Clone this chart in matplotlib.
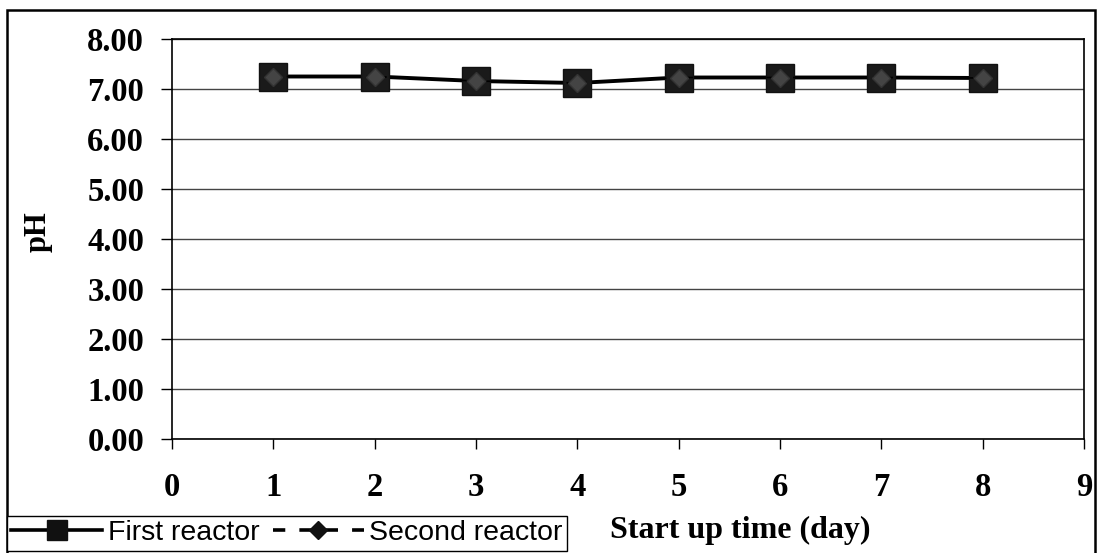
import matplotlib
matplotlib.use("Agg")
import matplotlib.pyplot as plt
from matplotlib.lines import Line2D
from matplotlib.patches import Rectangle

days = [1, 2, 3, 4, 5, 6, 7, 8]
first_reactor = [7.25, 7.25, 7.16, 7.12, 7.23, 7.23, 7.23, 7.22]
second_reactor = [7.25, 7.25, 7.16, 7.12, 7.23, 7.23, 7.23, 7.22]
x_ticks = [0, 1, 2, 3, 4, 5, 6, 7, 8, 9]
y_ticks = [0, 1, 2, 3, 4, 5, 6, 7, 8]

W, H = 1098, 553
fig = plt.figure(figsize=(W / 100, H / 100), dpi=100)
ax = fig.add_axes([172 / W, 1 - 439 / H, (1084 - 172) / W, (439 - 39) / H])

serif = "Liberation Serif"
sans = "Liberation Sans"

ax.plot(days, first_reactor, color="black", lw=2.8, marker="s", markersize=20,
        markerfacecolor="#1a1a1a", markeredgecolor="#111111", zorder=3)
ax.plot(days, second_reactor, color="black", lw=1.2, ls=(0, (4, 4)), marker="D",
        markersize=9, markerfacecolor="#444444", markeredgecolor="#333333", zorder=4)

ax.set_xlim(0, 9)
ax.set_ylim(0, 8)
ax.set_xticks(x_ticks)
ax.set_yticks(y_ticks)
ax.set_xticklabels([str(v) for v in x_ticks])
ax.set_yticklabels([f"{v:.2f}" for v in y_ticks])
ax.yaxis.grid(True, color="#444444", lw=1.0)
ax.set_axisbelow(True)
for s in ax.spines.values():
    s.set_color("black")
    s.set_linewidth(1.2)

ax.tick_params(axis="x", direction="out", length=7, width=1, pad=17)
ax.tick_params(axis="y", direction="out", length=8, width=1, pad=12)
for lab in ax.get_xticklabels() + ax.get_yticklabels():
    lab.set_fontfamily(serif)
    lab.set_fontweight("bold")
    lab.set_fontsize(23.5)

fig.text(38 / W, 1 - 232 / H, "pH", rotation=90, ha="center", va="center",
         fontfamily=serif, fontweight="bold", fontsize=22)
fig.text(740 / W, 1 - 538 / H, "Start up time (day)", ha="center", va="baseline",
         fontfamily=serif, fontweight="bold", fontsize=23)

# outer chart frame
fig.patches.append(Rectangle((7 / W, -0.05), (1095 - 7) / W, (1 - 10 / H) + 0.05,
                             transform=fig.transFigure, fill=False,
                             edgecolor="black", lw=1.8, zorder=0))

h1 = Line2D([], [], color="black", lw=2.6, marker="s", markersize=15,
            markerfacecolor="#111111", markeredgecolor="#111111")
h2 = Line2D([], [], color="black", lw=2.6, ls=(0, (3.4, 3.9)), marker="D", markersize=9,
            markerfacecolor="#111111", markeredgecolor="#111111")
leg = fig.legend([h1, h2], ["First reactor", "Second reactor"], ncol=2,
                 loc="upper left", bbox_to_anchor=(7 / W, 1 - 516 / H),
                 bbox_transform=fig.transFigure, borderaxespad=0, borderpad=0.15,
                 handlelength=3.2, handletextpad=0.2, columnspacing=0.45,
                 numpoints=1, fancybox=False, framealpha=1,
                 prop={"family": sans, "size": 20.5})
leg.get_frame().set_edgecolor("black")
leg.get_frame().set_linewidth(1.0)

fig.savefig("out.png", dpi=100)
